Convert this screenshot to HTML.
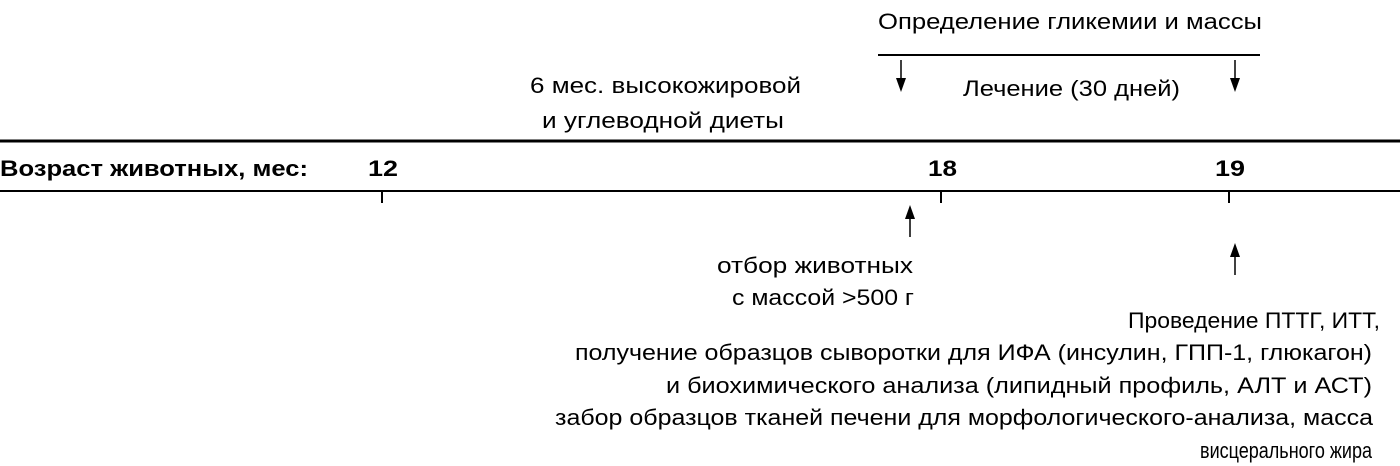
<!DOCTYPE html>
<html><head><meta charset="utf-8"><style>html,body{margin:0;padding:0;background:#fff}svg{display:block}</style></head>
<body>
<svg width="1400" height="466" viewBox="0 0 1400 466" xmlns="http://www.w3.org/2000/svg" font-family="Liberation Sans, sans-serif" font-size="22" fill="#000">
<g stroke="#000">
<line x1="0" y1="141" x2="1400" y2="141" stroke-width="3"/>
<line x1="0" y1="191" x2="1400" y2="191" stroke-width="2"/>
<line x1="382" y1="191" x2="382" y2="203" stroke-width="2"/>
<line x1="941" y1="191" x2="941" y2="203" stroke-width="2"/>
<line x1="1229" y1="191" x2="1229" y2="203" stroke-width="2"/>
<line x1="878" y1="55" x2="1260" y2="55" stroke-width="2"/>
<line x1="901" y1="60" x2="901" y2="80" stroke-width="1.5"/>
<line x1="1235" y1="60" x2="1235" y2="80" stroke-width="1.5"/>
<line x1="910" y1="217" x2="910" y2="237" stroke-width="1.5"/>
<line x1="1235" y1="255" x2="1235" y2="275" stroke-width="1.5"/>
</g>
<polygon points="896,78 906,78 901,92" fill="#000"/>
<polygon points="1230,78 1240,78 1235,92" fill="#000"/>
<polygon points="905,219 915,219 910,205" fill="#000"/>
<polygon points="1230,257 1240,257 1235,243" fill="#000"/>
<text x="878" y="29" textLength="384" lengthAdjust="spacingAndGlyphs">Определение гликемии и массы</text>
<text x="963" y="96" textLength="217" lengthAdjust="spacingAndGlyphs">Лечение (30 дней)</text>
<text x="530" y="93" textLength="271" lengthAdjust="spacingAndGlyphs">6 мес. высокожировой</text>
<text x="542" y="128" textLength="242" lengthAdjust="spacingAndGlyphs">и углеводной диеты</text>
<g font-weight="bold">
<text x="0" y="176" textLength="308" lengthAdjust="spacingAndGlyphs">Возраст животных, мес:</text>
<text x="368" y="176" textLength="30" lengthAdjust="spacingAndGlyphs">12</text>
<text x="928" y="176" textLength="29" lengthAdjust="spacingAndGlyphs">18</text>
<text x="1215" y="176" textLength="30" lengthAdjust="spacingAndGlyphs">19</text>
</g>
<text x="717" y="273" textLength="196" lengthAdjust="spacingAndGlyphs">отбор животных</text>
<text x="732" y="305" textLength="182" lengthAdjust="spacingAndGlyphs">с массой &gt;500 г</text>
<text x="1128" y="328" textLength="252" lengthAdjust="spacingAndGlyphs">Проведение ПТТГ, ИТТ,</text>
<text x="575" y="360" textLength="797" lengthAdjust="spacingAndGlyphs">получение образцов сыворотки для ИФА (инсулин, ГПП-1, глюкагон)</text>
<text x="666" y="393" textLength="706" lengthAdjust="spacingAndGlyphs">и биохимического анализа (липидный профиль, АЛТ и АСТ)</text>
<text x="555" y="425" textLength="818" lengthAdjust="spacingAndGlyphs">забор образцов тканей печени для морфологического-анализа, масса</text>
<text x="1200" y="458" textLength="172" lengthAdjust="spacingAndGlyphs">висцерального жира</text>
</svg>
</body></html>
